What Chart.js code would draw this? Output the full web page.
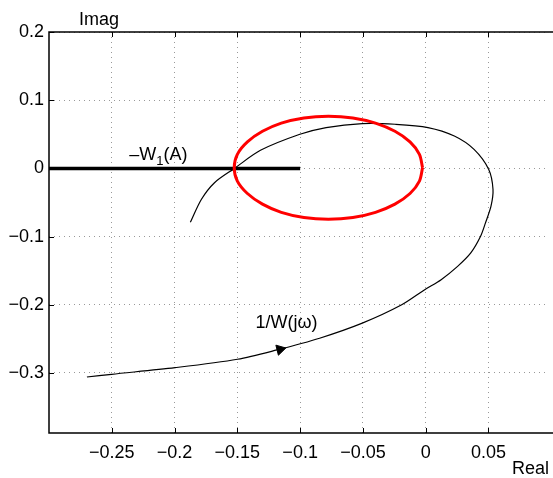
<!DOCTYPE html>
<html>
<head>
<meta charset="utf-8">
<script src="https://cdn.jsdelivr.net/npm/chart.js"></script>
<style>
  html, body { margin: 0; padding: 0; background: #fff; }
  #wrap { width: 553px; height: 478px; }
</style>
</head>
<body>
<div id="wrap"><canvas id="nyquist" width="553" height="478"></canvas></div>
<script>
// axis ticks
const xTicks = [-0.25, -0.2, -0.15, -0.1, -0.05, 0, 0.05];
const yTicks = [0.2, 0.1, 0, -0.1, -0.2, -0.3];

// -W1(A) : thick segment on the real axis
const w1Line = [{x: -0.3, y: 0}, {x: -0.1, y: 0}];

// red closed curve
const redX = [-0.0025, -0.005, -0.0125, -0.0245, -0.040, -0.058, -0.0775, -0.097, -0.115, -0.130, -0.142, -0.150,
              -0.1525, -0.150, -0.142, -0.130, -0.115, -0.097, -0.0775, -0.058, -0.040, -0.0245, -0.0125, -0.005, -0.0025];
const redY = [0.001, 0.0206, 0.0388, 0.0544, 0.0664, 0.074, 0.0765, 0.074, 0.0664, 0.0544, 0.0388, 0.0206,
              0.001, -0.0186, -0.0368, -0.0524, -0.0644, -0.072, -0.0745, -0.072, -0.0644, -0.0524, -0.0368, -0.0186, 0.001];

// 1/W(jw) curve
const curveX = [-0.2698, -0.2502, -0.1996, -0.1499, -0.1185, -0.0845, -0.0505, -0.0191, -0.0008, 0.0123, 0.0254,
                0.0359, 0.0437, 0.0476, 0.0520, 0.0536, 0.0502, 0.0385, 0.0228, 0.0018, -0.0243, -0.0505, -0.0793,
                -0.1002, -0.1316, -0.1523, -0.1682, -0.1787, -0.1874];
const curveY = [-0.3059, -0.3019, -0.2922, -0.2799, -0.2662, -0.2490, -0.2269, -0.2000, -0.1779, -0.1632, -0.1437,
                -0.1240, -0.0996, -0.0799, -0.0554, -0.0309, -0.0015, 0.0279, 0.0475, 0.0599, 0.0647, 0.0657, 0.0599,
                0.0500, 0.0265, 0.0, -0.0210, -0.0456, -0.0790];

const arrowPoint = [{x: -0.116, y: -0.2655}];

const toPts = (xs, ys) => xs.map((x, i) => ({x: x, y: ys[i]}));

const FONT = '"Liberation Sans", Arial, Helvetica, sans-serif';

const noPad = s => { s.paddingLeft = 0; s.paddingRight = 0; s.paddingTop = 0; s.paddingBottom = 0; };

const decorations = {
  id: 'decorations',
  afterDraw(chart) {
    const ctx = chart.ctx;
    const a = chart.chartArea;
    const sx = chart.scales.x, sy = chart.scales.y;
    ctx.save();
    ctx.strokeStyle = '#000';
    ctx.lineWidth = 1.5;
    // box (left, top, bottom)
    ctx.beginPath();
    ctx.moveTo(chart.width + 5, a.top);
    ctx.lineTo(a.left, a.top);
    ctx.lineTo(a.left, a.bottom);
    ctx.lineTo(chart.width + 5, a.bottom);
    ctx.stroke();
    // inner ticks
    ctx.lineWidth = 1;
    ctx.beginPath();
    xTicks.forEach(v => {
      const px = Math.round(sx.getPixelForValue(v)) + 0.5;
      ctx.moveTo(px, a.bottom); ctx.lineTo(px, a.bottom - 5);
      ctx.moveTo(px, a.top); ctx.lineTo(px, a.top + 5);
    });
    yTicks.forEach(v => {
      const py = Math.round(sy.getPixelForValue(v)) + 0.5;
      ctx.moveTo(a.left, py); ctx.lineTo(a.left + 5, py);
    });
    ctx.stroke();

    // texts
    ctx.fillStyle = '#000';
    ctx.textBaseline = 'alphabetic';
    ctx.textAlign = 'left';
    ctx.font = '18px ' + FONT;
    ctx.fillText('Imag', a.left + 30, a.top - 7);
    ctx.textAlign = 'right';
    ctx.fillText('Real', 549, 474);

    ctx.textAlign = 'left';
    let x0 = sx.getPixelForValue(-0.236);
    const yb = sy.getPixelForValue(0.0122);
    ctx.fillText('–W', x0, yb);
    x0 += ctx.measureText('–W').width;
    ctx.font = '13px ' + FONT;
    ctx.fillText('1', x0, yb + 5);
    x0 += ctx.measureText('1').width;
    ctx.font = '18px ' + FONT;
    ctx.fillText('(A)', x0, yb);

    ctx.fillText('1/W(jω)', sx.getPixelForValue(-0.1356), sy.getPixelForValue(-0.2343));
    ctx.restore();
  }
};

new Chart(document.getElementById('nyquist'), {
  type: 'scatter',
  data: {
    datasets: [
      {
        data: arrowPoint,
        pointStyle: 'triangle',
        rotation: 76,
        radius: 6,
        backgroundColor: '#000',
        borderColor: '#000',
        borderWidth: 1,
        order: 0
      },
      {
        data: toPts(redX, redY),
        showLine: true,
        borderColor: '#ff0000',
        borderWidth: 3,
        pointRadius: 0,
        tension: 0.3,
        order: 1
      },
      {
        data: toPts(curveX, curveY),
        showLine: true,
        borderColor: '#000',
        borderWidth: 1.2,
        pointRadius: 0,
        tension: 0.3,
        order: 2
      },
      {
        data: w1Line,
        showLine: true,
        borderColor: '#000',
        borderWidth: 3.5,
        pointRadius: 0,
        order: 3
      }
    ]
  },
  options: {
    responsive: false,
    animation: false,
    layout: { padding: { top: 32, right: 0, left: 0, bottom: 0 } },
    plugins: { legend: { display: false }, tooltip: { enabled: false } },
    scales: {
      x: {
        type: 'linear',
        min: -0.3,
        max: 0.0958,
        afterBuildTicks: s => { s.ticks = xTicks.map(v => ({value: v})); },
        afterFit: s => { s.height = 45; noPad(s); },
        grid: { color: '#999', drawTicks: false },
        border: { display: false, dash: [1, 4] },
        ticks: {
          padding: 9,
          color: '#000',
          font: { size: 18, family: FONT },
          callback: v => String(v).replace('-', '−')
        }
      },
      y: {
        type: 'linear',
        min: -0.388,
        max: 0.2,
        afterBuildTicks: s => { s.ticks = yTicks.map(v => ({value: v})); },
        afterFit: s => { s.width = 49; noPad(s); },
        grid: { color: '#999', drawTicks: false },
        border: { display: false, dash: [1, 4] },
        ticks: {
          padding: 5,
          color: '#000',
          font: { size: 18, family: FONT },
          callback: v => String(v).replace('-', '−')
        }
      }
    }
  },
  plugins: [decorations]
});
</script>
</body>
</html>
